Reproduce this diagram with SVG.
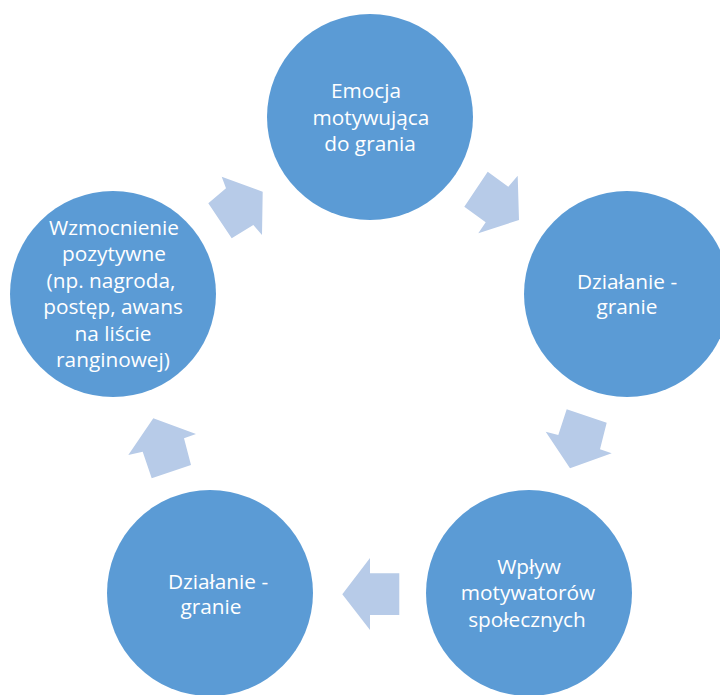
<svg xmlns="http://www.w3.org/2000/svg" width="720" height="695" viewBox="0 0 720 695">
<style>
.node{fill:#5B9BD5;}
.arr{fill:#B7CBE8;}
text{font-family:"Open Sans","Liberation Sans",sans-serif;font-size:20.8px;fill:#FFFFFF;text-anchor:middle;}
</style>
<rect width="720" height="695" fill="#FFFFFF"/>
<g id="connectors">
<polygon class="arr" points="221.7,176.7 262.7,191.7 262,235 253.3,225 231.7,238.3 208.3,203.3 226,188.3"/>
<polygon class="arr" points="487.7,171.7 508.3,186.7 517.7,175.7 519,220 478.3,233.3 485.7,222.3 464.3,206.7"/>
<polygon class="arr" points="566.7,409.3 606.7,422.7 600,449.3 611.7,453.3 570,468.3 545.7,431.7 558.3,435"/>
<polygon class="arr" points="370,558 370,573.3 399.3,573.3 399.3,615 370,615 370,630 342.3,594.3"/>
<polygon class="arr" points="153.3,418.3 196,434 184,438.3 191,465 151.7,478.3 142.7,451.7 128.3,455"/>
</g>
<g id="node-emocja">
<circle class="node" cx="370" cy="117" r="103"/>
<text x="366" y="98">Emocja</text>
<text x="371" y="124.5">motywująca</text>
<text x="370" y="151">do grania</text>
</g>
<g id="node-dzialanie-1">
<circle class="node" cx="627" cy="294" r="103"/>
<text x="627" y="288.5">Działanie -</text>
<text x="627" y="314">granie</text>
</g>
<g id="node-wplyw">
<circle class="node" cx="529" cy="593" r="103"/>
<text x="529" y="573.5">Wpływ</text>
<text x="528" y="600">motywatorów</text>
<text x="527" y="626.5">społecznych</text>
</g>
<g id="node-dzialanie-2">
<circle class="node" cx="210" cy="593" r="103"/>
<text x="218" y="588.5">Działanie -</text>
<text x="211" y="614">granie</text>
</g>
<g id="node-wzmocnienie">
<circle class="node" cx="113" cy="294" r="103"/>
<text x="114" y="234.5">Wzmocnienie</text>
<text x="114" y="261">pozytywne</text>
<text x="111" y="287.5">(np. nagroda,</text>
<text x="113" y="314">postęp, awans</text>
<text x="113" y="340.5">na liście</text>
<text x="113" y="367">ranginowej)</text>
</g>
</svg>
